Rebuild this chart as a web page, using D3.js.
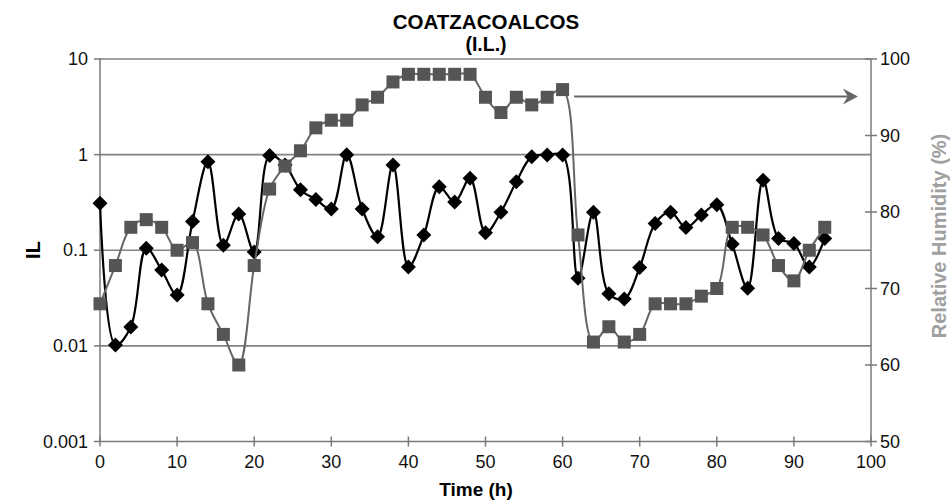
<!DOCTYPE html>
<html><head><meta charset="utf-8">
<script src="https://cdn.jsdelivr.net/npm/d3@7"></script>
<style>body{margin:0;background:#fff}svg{display:block}text{font-family:"Liberation Sans",Arial,sans-serif}</style>
</head><body>
<svg id="c" width="950" height="501"></svg>
<script>
const times = [0,2,4,6,8,10,12,14,16,18,20,22,24,26,28,30,32,34,36,38,40,42,44,46,48,50,52,54,56,58,60,62,64,66,68,70,72,74,76,78,80,82,84,86,88,90,92,94];
const ilValues = [0.31,0.0102,0.0158,0.105,0.062,0.034,0.20,0.84,0.113,0.24,0.096,0.98,0.78,0.43,0.34,0.27,1.0,0.27,0.138,0.78,0.067,0.144,0.46,0.32,0.565,0.152,0.25,0.52,0.95,0.99,0.99,0.051,0.25,0.035,0.031,0.066,0.19,0.25,0.173,0.233,0.30,0.116,0.040,0.54,0.133,0.118,0.067,0.133];
const rhValues = [68,73,78,79,78,75,76,68,64,60,73,83,86,88,91,92,92,94,95,97,98,98,98,98,98,95,93,95,94,95,96,77,63,65,63,64,68,68,68,69,70,78,78,77,73,71,75,78];
const ilTicks = [0.001,0.01,0.1,1,10];
const ilTickLabels = ["0.001","0.01","0.1","1","10"];
const rhTicks = [50,60,70,80,90,100];
const timeTicks = [0,10,20,30,40,50,60,70,80,90,100];
const titleLines = ["COATZACOALCOS","(I.L.)"];
const arrowFrom = {t:61.5, rh:95.1}, arrowTo = {t:98.3, rh:95.1};

const svg = d3.select("#c");
const L=100, R=871, T=59, B=441.5;
const x = d3.scaleLinear().domain([0,100]).range([L,R]);
const yL = d3.scaleLog().domain([0.001,10]).range([B,T]);
const yR = d3.scaleLinear().domain([50,100]).range([B,T]);
const axisCol="#7a7a7a";

// gridlines
svg.append("g").selectAll("line").data(ilTicks.filter(d=>d>0.001)).join("line")
  .attr("x1",L).attr("x2",R).attr("y1",d=>yL(d)).attr("y2",d=>yL(d))
  .attr("stroke","#828282").attr("stroke-width",1.6);

// axes lines
svg.append("line").attr("x1",L).attr("x2",L).attr("y1",T).attr("y2",B).attr("stroke",axisCol).attr("stroke-width",1.5);
svg.append("line").attr("x1",R).attr("x2",R).attr("y1",T).attr("y2",B).attr("stroke",axisCol).attr("stroke-width",1.5);
svg.append("line").attr("x1",L).attr("x2",R).attr("y1",B).attr("y2",B).attr("stroke",axisCol).attr("stroke-width",1.5);

// left ticks
const gl = svg.append("g");
gl.selectAll("line").data(ilTicks).join("line").attr("x1",L-6).attr("x2",L+1).attr("y1",d=>yL(d)).attr("y2",d=>yL(d)).attr("stroke",axisCol).attr("stroke-width",1.5);
gl.selectAll("text").data(ilTicks).join("text").attr("x",L-12).attr("y",d=>yL(d)+6)
  .attr("text-anchor","end").attr("font-size",18).attr("fill","#111").text((d,i)=>ilTickLabels[i]);
// right ticks
const gr = svg.append("g");
gr.selectAll("line").data(rhTicks).join("line").attr("x1",R-6).attr("x2",R+6).attr("y1",d=>yR(d)).attr("y2",d=>yR(d)).attr("stroke",axisCol).attr("stroke-width",1.5);
gr.selectAll("text").data(rhTicks).join("text").attr("x",R+9).attr("y",d=>yR(d)+6)
  .attr("font-size",18).attr("fill","#111").text(d=>d);
// bottom ticks
const gb = svg.append("g");
gb.selectAll("line").data(timeTicks).join("line").attr("x1",d=>x(d)).attr("x2",d=>x(d)).attr("y1",B-5).attr("y2",B+5).attr("stroke",axisCol).attr("stroke-width",1.5);
gb.selectAll("text").data(timeTicks).join("text").attr("x",d=>x(d)).attr("y",B+26)
  .attr("text-anchor","middle").attr("font-size",18).attr("fill","#111").text(d=>d);

// titles
svg.append("text").attr("x",486).attr("y",28.5).attr("text-anchor","middle").attr("font-size",20.5).attr("font-weight","bold").text(titleLines[0]);
svg.append("text").attr("x",486).attr("y",51).attr("text-anchor","middle").attr("font-size",19.5).attr("font-weight","bold").text(titleLines[1]);
svg.append("text").attr("transform","translate(40,250) rotate(-90)").attr("text-anchor","middle").attr("font-size",20).attr("font-weight","bold").text("IL");
svg.append("text").attr("x",476).attr("y",496).attr("text-anchor","middle").attr("font-size",19).attr("font-weight","bold").text("Time (h)");
svg.append("text").attr("transform","translate(946,236) rotate(-90)").attr("text-anchor","middle").attr("font-size",20).attr("font-weight","bold").attr("fill","#a0a0a0").text("Relative Humidity (%)");

const ilData = times.map((t,i)=>({t,v:ilValues[i]}));
const rhData = times.map((t,i)=>({t,v:rhValues[i]}));

// IL line
svg.append("path").datum(ilData).attr("fill","none").attr("stroke","#000").attr("stroke-width",2.2)
  .attr("d",d3.line().x(d=>x(d.t)).y(d=>yL(d.v)).curve(d3.curveCatmullRom.alpha(0.5)));
svg.append("g").selectAll("path").data(ilData).join("path")
  .attr("transform",d=>`translate(${x(d.t)},${yL(d.v)})`)
  .attr("d","M0,-7.5L7.5,0L0,7.5L-7.5,0Z").attr("fill","#000");

// RH line
svg.append("path").datum(rhData).attr("fill","none").attr("stroke","#666").attr("stroke-width",2)
  .attr("d",d3.line().x(d=>x(d.t)).y(d=>yR(d.v)).curve(d3.curveCatmullRom.alpha(0.5)));
svg.append("g").selectAll("rect").data(rhData).join("rect")
  .attr("x",d=>x(d.t)-6.5).attr("y",d=>yR(d.v)-6.5).attr("width",13).attr("height",13).attr("fill","#555");

// arrow
const ax1=x(arrowFrom.t), ay=yR(arrowFrom.rh), ax2=x(arrowTo.t);
svg.append("line").attr("x1",ax1).attr("x2",ax2-4).attr("y1",ay).attr("y2",ay).attr("stroke","#666").attr("stroke-width",2);
svg.append("path").attr("d",`M${ax2},${ay}L${ax2-15},${ay-8}L${ax2-10},${ay}L${ax2-15},${ay+8}Z`).attr("fill","#666");
</script>
</body></html>
